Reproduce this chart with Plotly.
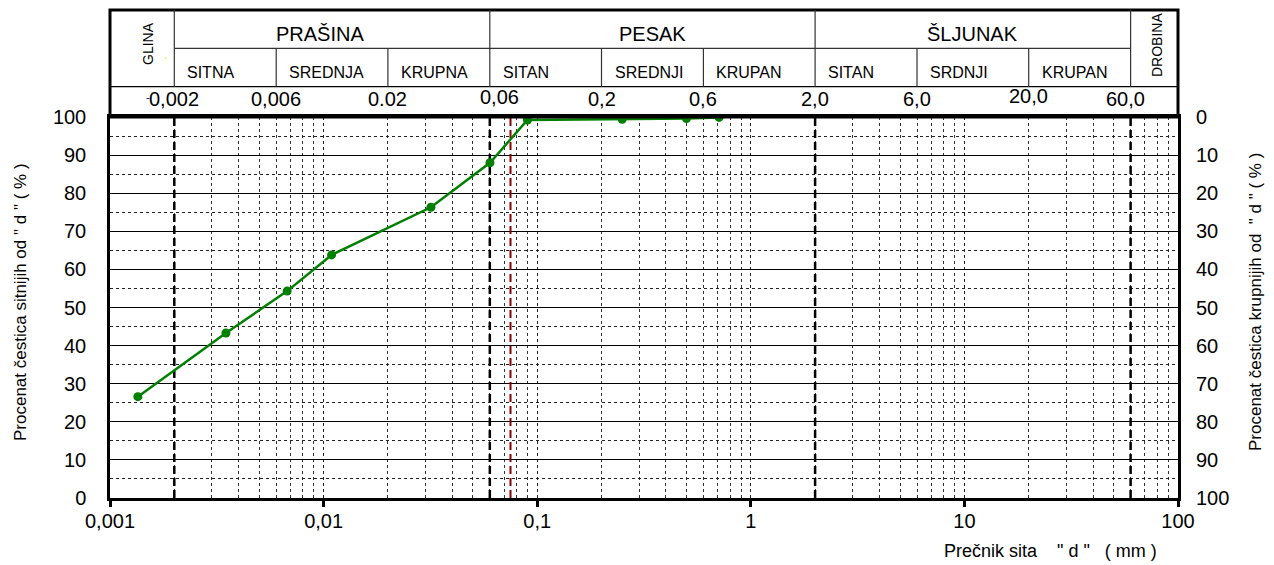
import math
import plotly.graph_objects as go

# ---------------- data ----------------
diam_mm = [0.00135, 0.00349, 0.00675, 0.0109, 0.0318, 0.0601, 0.09, 0.25, 0.5, 0.71]
passing_pct = [26.6, 43.3, 54.3, 63.8, 76.3, 88.0, 99.2, 99.4, 99.6, 99.9]

boundary_mm = [0.002, 0.06, 2, 60]
red_line_mm = [0.075]

main_groups = ["PRAŠINA", "PESAK", "ŠLJUNAK"]
main_bounds = [0.002, 0.06, 2, 60]
side_labels = ["GLINA", "DROBINA"]

sub_labels = ["SITNA", "SREDNJA", "KRUPNA", "SITAN", "SREDNJI", "KRUPAN", "SITAN", "SRDNJI", "KRUPAN"]
sub_bounds = [0.002, 0.006, 0.02, 0.06, 0.2, 0.6, 2, 6, 20, 60]
size_labels = ["0,002", "0,006", "0.02", "0,06", "0,2", "0,6", "2,0", "6,0", "20,0", "60,0"]

x_tickvals = [0.001, 0.01, 0.1, 1, 10, 100]
x_ticktext = ["0,001", "0,01", "0,1", "1", "10", "100"]
y_ticks = list(range(0, 101, 10))

FONT = "Liberation Sans, Arial, sans-serif"
XMIN, XMAX = -3, 2

# page body has an 8px margin: plot area must land at x 110..1178, y 117..498
OFF = 8
PL, PR, PT, PB = 110, 1178, 117, 498
W, HH = 1274 - OFF, 565 - OFF
PW, PH = PR - PL, PB - PT


def px(v):
    return (math.log10(v) - XMIN) / (XMAX - XMIN)


def fx(x):  # page pixel x -> paper
    return (x - PL) / PW


def fy(y):  # page pixel y -> paper
    return (PB - y) / PH


fig = go.Figure()

for b in boundary_mm:
    fig.add_trace(go.Scatter(x=[b, b], y=[0, 100], mode="lines",
                             line=dict(color="black", width=2.5, dash="8px,4px"),
                             hoverinfo="skip"))
for b in red_line_mm:
    fig.add_trace(go.Scatter(x=[b, b], y=[0, 100], mode="lines",
                             line=dict(color="#8B0000", width=2, dash="8px,4px"),
                             hoverinfo="skip"))

fig.add_trace(go.Scatter(x=diam_mm, y=passing_pct, mode="lines+markers",
                         line=dict(color="#008000", width=2.5),
                         marker=dict(color="#008000", size=9)))

# retained percentage on the right axis (same curve, invisible)
fig.add_trace(go.Scatter(x=diam_mm, y=[100 - p for p in passing_pct], yaxis="y2",
                         mode="lines", line=dict(width=0, color="rgba(0,0,0,0)"),
                         hoverinfo="skip"))

minor_x = [m * 10 ** e for e in range(-3, 2) for m in range(2, 10)]

fig.update_layout(
    width=W, height=HH,
    margin=dict(l=PL - OFF, r=W + OFF - PR, t=PT - OFF, b=HH + OFF - PB, pad=0),
    plot_bgcolor="white", paper_bgcolor="white",
    showlegend=False,
    font=dict(family=FONT, color="black"),
    xaxis=dict(type="log", range=[XMIN, XMAX],
               tickvals=x_tickvals, ticktext=x_ticktext,
               tickfont=dict(size=20, family=FONT),
               showgrid=True, gridcolor="#222", gridwidth=1, griddash="dot",
               minor=dict(tickvals=minor_x, showgrid=True, gridcolor="#333",
                          gridwidth=1, griddash="dot", ticks=""),
               ticks="outside", ticklen=6, tickwidth=2.5, tickcolor="black",
               ticklabelstandoff=-3,
               showline=True, linewidth=3, linecolor="black", mirror=True,
               zeroline=False),
    yaxis=dict(range=[0, 100], tickvals=y_ticks,
               tickfont=dict(size=20, family=FONT),
               showgrid=True, gridcolor="black", gridwidth=1,
               minor=dict(tickvals=list(range(5, 100, 10)), showgrid=True,
                          gridcolor="#222", gridwidth=1, griddash="dot", ticks=""),
               ticks="", ticklabelstandoff=17,
               showline=True, linewidth=2.5, linecolor="black", mirror=True,
               zeroline=False),
    yaxis2=dict(overlaying="y", side="right", range=[100, 0], tickvals=y_ticks,
                tickfont=dict(size=20, family=FONT), showgrid=False,
                ticks="", ticklabelstandoff=17, showline=False, zeroline=False),
)

# ---------------- header table ----------------
Y_TOP = fy(10)
Y_R1 = fy(48.3)
Y_R2 = fy(86.7)

shapes = []
shapes.append(dict(type="rect", xref="paper", yref="paper", x0=0, x1=1, y0=1, y1=Y_TOP,
                   line=dict(color="black", width=3)))
shapes.append(dict(type="line", xref="paper", yref="paper", x0=0, x1=1, y0=Y_R2, y1=Y_R2,
                   line=dict(color="black", width=1.2)))
shapes.append(dict(type="line", xref="paper", yref="paper", x0=px(main_bounds[0]), x1=px(main_bounds[-1]),
                   y0=Y_R1, y1=Y_R1, line=dict(color="#333", width=1.2)))
for b in main_bounds:
    shapes.append(dict(type="line", xref="paper", yref="paper", x0=px(b), x1=px(b),
                       y0=Y_R2, y1=Y_TOP, line=dict(color="#333", width=1.2)))
for b in sub_bounds:
    if b in main_bounds:
        continue
    shapes.append(dict(type="line", xref="paper", yref="paper", x0=px(b), x1=px(b),
                       y0=Y_R2, y1=Y_R1, line=dict(color="#333", width=1.2)))
fig.update_layout(shapes=shapes)


def note(text, x, y, size, angle=0, xanchor="center", xshift=0, color="black"):
    return dict(text=text, x=x, y=y, xref="paper", yref="paper", showarrow=False,
                xanchor=xanchor, yanchor="middle", xshift=xshift, textangle=angle,
                font=dict(size=size, family=FONT, color=color))


size_shift = {"0,06": 10, "60,0": -5}
size_y = {"0,06": 97, "20,0": 96}

ann = []
for i, name in enumerate(main_groups):
    xm = (math.log10(main_bounds[i]) + math.log10(main_bounds[i + 1])) / 2
    ann.append(note(name, (xm - XMIN) / (XMAX - XMIN), fy(34), 20,
                    xshift=-12 if i == 0 else 0))
for i, name in enumerate(sub_labels):
    ann.append(note(name, px(sub_bounds[i]), fy(72.5), 16, xanchor="left", xshift=11))
for i, name in enumerate(size_labels):
    ann.append(note(name, px(sub_bounds[i]), fy(size_y.get(name, 99)), 20,
                    xshift=size_shift.get(name, 0)))
ann.append(note(side_labels[0], fx(148), fy(44), 14, angle=-90))
ann.append(note(side_labels[1], fx(1157), fy(45), 14, angle=-90))
# small stray marks present in the original header
ann.append(note("-", fx(148), fy(97), 11, color="#000080"))
ann.append(note(".", fx(165), fy(55), 12, color="#E6E600"))

ann.append(note("Procenat čestica sitnijih od \" d \" ( % )", fx(20), fy(302), 17, angle=-90))
ann.append(note("Procenat čestica krupnijih od &nbsp;\" d \" ( % )", fx(1255), fy(302), 17, angle=-90))
ann.append(note("Prečnik sita &nbsp;&nbsp; \" d \" &nbsp;&nbsp;( mm )", fx(1050), fy(551), 18))
fig.update_layout(annotations=ann)

fig.write_html("out.html")
